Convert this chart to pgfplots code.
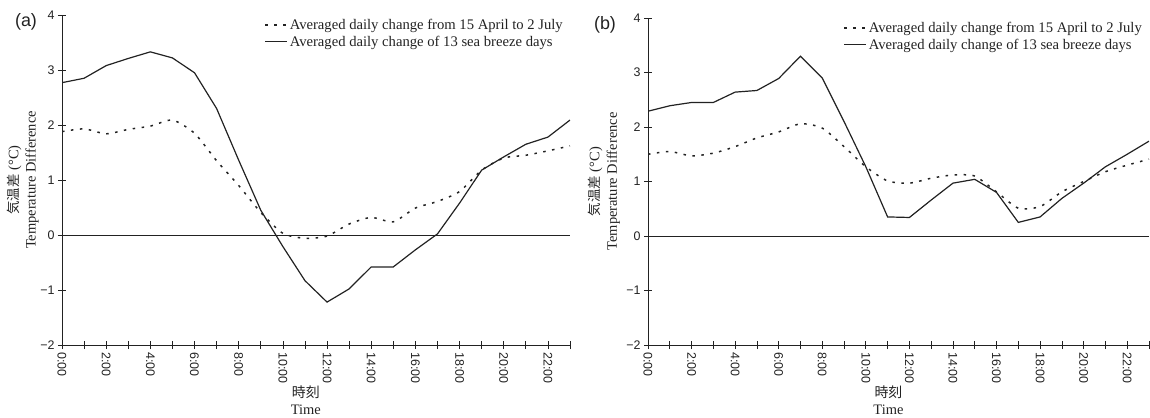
\documentclass[border=0pt]{standalone}
\usepackage{fontspec}
\usepackage{pgfplots}
\usepackage{pgfplotstable}
\pgfplotsset{compat=1.18}
\setmainfont{Liberation Serif}
\newfontfamily\sansf{Liberation Sans}
\newfontfamily\cjk{Noto Sans CJK JP}

\pgfplotstableread{
h  dA     sA     dB    sB
0  1.88   2.77   1.50  2.29
1  1.93   2.85   1.55  2.39
2  1.84   3.08   1.47  2.45
3  1.92   3.21   1.52  2.45
4  1.98   3.33   1.64  2.64
5  2.09   3.22   1.80  2.67
6  1.85   2.95   1.91  2.89
7  1.35   2.30   2.06  3.30
8  0.90   1.36   1.98  2.90
9  0.41   0.45   1.64  2.10
10 0.03  -0.21   1.27  1.27
11 -0.06 -0.83   1.01  0.35
12 -0.02 -1.22   0.97  0.34
13 0.20  -0.98   1.06  0.66
14 0.32  -0.58   1.12  0.97
15 0.24  -0.58   1.10  1.04
16 0.49  -0.27   0.81  0.80
17 0.61   0.02   0.51  0.25
18 0.79   0.58   0.54  0.35
19 1.18   1.18   0.81  0.69
20 1.40   1.42   1.00  0.97
21 1.45   1.65   1.18  1.27
22 1.53   1.78   1.30  1.50
23 1.62   2.09   1.41  1.74
}\data

\definecolor{ink}{HTML}{222222}

\pgfplotsset{
  myaxis/.style={
    scale only axis,
    xmin=0, xmax=23, ymin=-2, ymax=4,
    axis x line=bottom, axis y line=left,
    axis line style={-, line width=0.8bp, ink},
    tick align=center,
    major tick length=8bp, minor tick length=8bp,
    every tick/.style={line width=0.7bp, ink},
    xtick={0,2,...,22}, minor xtick={1,3,...,23},
    xticklabels={0:00,2:00,4:00,6:00,8:00,10:00,12:00,14:00,16:00,18:00,20:00,22:00},
    ytick={-2,-1,0,1,2,3,4},
    yticklabels={−2,−1,0,1,2,3,4},
    ticklabel style={font=\sansf\fontsize{12.5}{14}\selectfont, text=ink},
    xticklabel style={rotate=-90, anchor=west},
    extra y ticks={0}, extra y tick labels={},
    extra y tick style={grid=major, major grid style={line width=0.8bp, ink}},
    xlabel={{\cjk\fontsize{14}{17}\selectfont 時刻}\\Time},
    xlabel style={at={(axis description cs:0.48,0)}, anchor=north, yshift=-37bp,
      align=center, font=\fontsize{14.5}{17.5}\selectfont, text=ink},
    ylabel={{\cjk\fontsize{13.5}{17}\selectfont 気温差} (°C)\\Temperature Difference},
    ylabel style={align=center, anchor=center, font=\fontsize{14.5}{17.5}\selectfont, text=ink},
    legend style={at={(axis description cs:1,1)}, anchor=north east, xshift=-4bp, yshift=-1bp,
      draw=none, fill=none,
      font=\fontsize{14.7}{17.5}\selectfont, text=ink, legend cell align=left,
      row sep=1bp, inner sep=1bp},
    legend image code/.code={\draw[#1] (0bp,0bp) -- (22bp,0bp);},
  },
  dotsty/.style={ink, line width=1.5bp, dash pattern=on 2.5bp off 6.5bp, smooth, tension=0.4},
  solsty/.style={ink, line width=1.2bp},
}

\begin{document}
\begin{tikzpicture}
\path[use as bounding box] (0,0) rectangle (1150bp,-418bp);

\begin{axis}[myaxis, at={(62bp,-345bp)}, anchor=south west, width=508bp, height=330bp,
  ylabel style={at={(axis description cs:-0.077,0.5)}}]
\addplot[dotsty] table[x=h, y=dA] {\data};
\addlegendentry{Averaged daily change from 15 April to 2 July}
\addplot[solsty] table[x=h, y=sA] {\data};
\addlegendentry{Averaged daily change of 13 sea breeze days}
\end{axis}

\begin{axis}[myaxis, at={(648bp,-345bp)}, anchor=south west, width=501bp, height=327bp,
  ylabel style={at={(axis description cs:-0.088,0.5)}}]
\addplot[dotsty] table[x=h, y=dB] {\data};
\addlegendentry{Averaged daily change from 15 April to 2 July}
\addplot[solsty] table[x=h, y=sB] {\data};
\addlegendentry{Averaged daily change of 13 sea breeze days}
\end{axis}

\node[font=\sansf\fontsize{18}{19}\selectfont, text=ink] at (26bp,-22bp) {(a)};
\node[font=\sansf\fontsize{18}{19}\selectfont, text=ink] at (605bp,-25bp) {(b)};
\end{tikzpicture}
\end{document}
